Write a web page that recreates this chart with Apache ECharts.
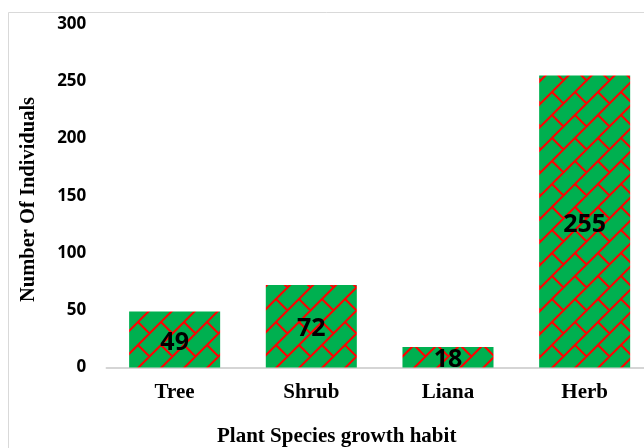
<!DOCTYPE html>
<html>
<head>
<meta charset="utf-8">
<title>Plant Species growth habit</title>
<script src="https://cdn.jsdelivr.net/npm/echarts@6/dist/echarts.min.js"></script>
<style>
  html, body { margin: 0; padding: 0; background: #fff; }
  #chart { width: 644px; height: 448px; }
</style>
</head>
<body>
<div id="chart"></div>
<script>
// data
const categories = ['Tree', 'Shrub', 'Liana', 'Herb'];
const individuals = [49, 72, 18, 255];
const yTicks = [0, 50, 100, 150, 200, 250, 300];

// diagonal brick fill (green with red lines)
function brickPattern(s) {
  const T = 2 * s;
  const cv = document.createElement('canvas');
  cv.width = T;
  cv.height = T;
  const ctx = cv.getContext('2d');
  ctx.fillStyle = '#00B050';
  ctx.fillRect(0, 0, T, T);
  ctx.strokeStyle = '#FF0000';
  ctx.lineWidth = 2;
  ctx.beginPath();
  // "/" lines
  for (let k = -1; k <= 5; k++) {
    ctx.moveTo(k * s + 2, -2);
    ctx.lineTo(k * s - T - 2, T + 2);
  }
  // "\" separators, alternating per band
  for (let m = -4; m <= 8; m++) {
    for (let c = -3 * T; c <= 3 * T; c += T) {
      const cc = c + (((m % 2) + 2) % 2) * s;
      const x = (m * s + cc) / 2;
      const y = (m * s - cc) / 2;
      ctx.moveTo(x, y);
      ctx.lineTo(x + s / 2, y + s / 2);
    }
  }
  ctx.stroke();
  return cv;
}

const chart = echarts.init(document.getElementById('chart'));
const option = {
  backgroundColor: '#fff',
  animation: false,
  graphic: [{
    type: 'rect',
    shape: { x: 8.5, y: 12.5, width: 700, height: 500 },
    style: { fill: 'none', stroke: '#d9d9d9', lineWidth: 1 },
    z: -1
  }, {
    type: 'text',
    left: 217,
    top: 426,
    style: {
      text: 'Plant Species growth habit',
      font: 'bold 21px "Liberation Serif", "Times New Roman", serif',
      fill: '#000'
    }
  }, {
    type: 'text',
    x: 18,
    y: 302,
    rotation: Math.PI / 2,
    style: {
      text: 'Number Of Individuals',
      font: 'bold 20.5px "Liberation Serif", "Times New Roman", serif',
      fill: '#000'
    }
  }],
  grid: {
    left: 106.3,
    width: 546.7,
    top: 24,
    bottom: 80.5,
    containLabel: false,
    outerBoundsMode: 'none'
  },
  xAxis: {
    type: 'category',
    data: categories,
    axisLine: { lineStyle: { color: '#c8c8c8', width: 1.5 } },
    axisTick: { show: false },
    axisLabel: {
      margin: 15,
      color: '#000',
      fontFamily: '"Liberation Serif", "Times New Roman", serif',
      fontWeight: 'bold',
      fontSize: 21
    }
  },
  yAxis: {
    type: 'value',
    min: yTicks[0],
    max: yTicks[yTicks.length - 1],
    interval: yTicks[1] - yTicks[0],
    axisLine: { show: false },
    axisTick: { show: false },
    splitLine: { show: false },
    axisLabel: {
      margin: 20,
      color: '#000',
      fontFamily: '"Open Sans", sans-serif',
      fontWeight: 'bold',
      fontSize: 17
    }
  },
  series: [{
    type: 'bar',
    data: individuals,
    barCategoryGap: '33.4%',
    itemStyle: {
      color: { image: brickPattern(23), repeat: 'repeat' }
    },
    label: {
      show: true,
      position: 'inside',
      offset: [0, 3],
      color: '#000',
      fontFamily: '"Open Sans", sans-serif',
      fontWeight: 'bold',
      fontSize: 25
    }
  }]
};
chart.setOption(option);
window.onresize = () => {
  chart.resize();
};
</script>
</body>
</html>
